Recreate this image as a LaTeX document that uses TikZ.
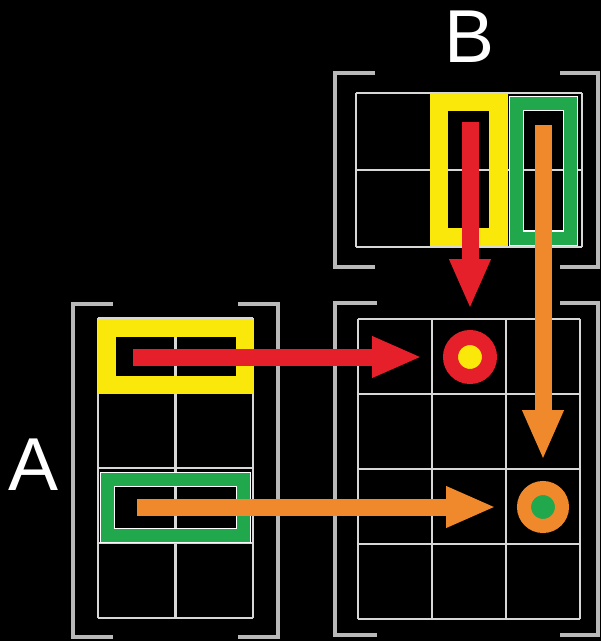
\documentclass[tikz,border=0pt]{standalone}
\usepackage{fontspec}
\setmainfont{Liberation Sans}
\usetikzlibrary{arrows.meta}
\definecolor{cellyellow}{RGB}{250,232,10}
\definecolor{cellgreen}{RGB}{34,168,76}
\definecolor{hitred}{RGB}{230,32,42}
\definecolor{hitorange}{RGB}{240,136,44}
\definecolor{gridgray}{RGB}{215,215,215}
\definecolor{bracketgray}{RGB}{185,185,185}

\begin{document}
\begin{tikzpicture}[
      x=1pt, y=-1pt,
      gridline/.style={draw=gridgray, line width=2.6pt},
      bracket/.style={draw=bracketgray, line width=3.6pt},
      yelbox/.style={draw=cellyellow, line width=18pt},
      grnbox/.style={draw=white, line width=1.3pt, double=cellgreen, double distance=13pt},
      redarrow/.style={-{Triangle[length=50pt,width=38pt]}, draw=hitred, fill=hitred, line width=17pt, shorten >=21pt},
      orgarrow/.style={-{Triangle[length=50pt,width=38pt]}, draw=hitorange, fill=hitorange, line width=17pt, shorten >=21pt},
      reddot/.style={circle, draw=hitred, fill=cellyellow, line width=15pt, minimum size=39pt, inner sep=0pt},
      orgdot/.style={circle, draw=hitorange, fill=cellgreen, line width=14pt, minimum size=38pt, inner sep=0pt},
      label/.style={text=white, font=\fontsize{75}{75}\selectfont}
    ]

    % Background
    \fill[black] (0,0) rectangle (601,641);
    \useasboundingbox (0,0) rectangle (601,641);

    % Grids
    \foreach \x in {98,175.5,253} \draw[gridline] (\x,318) -- (\x,618);
    \foreach \y in {318,393,468,543,618} \draw[gridline] (98,\y) -- (253,\y);
    \foreach \x in {356,431.3,506.7,582} \draw[gridline] (\x,93) -- (\x,247);
    \foreach \y in {93,170,247} \draw[gridline] (356,\y) -- (582,\y);
    \foreach \x in {358,432,506,580} \draw[gridline] (\x,319) -- (\x,619);
    \foreach \y in {319,394,469,544,619} \draw[gridline] (358,\y) -- (580,\y);

    % Brackets
    \draw[bracket] (113,304) -| (73,637) -- (113,637);
    \draw[bracket] (238,304) -| (278,637) -- (238,637);
    \draw[bracket] (375,73) -| (335,267) -- (375,267);
    \draw[bracket] (560,73) -| (598,267) -- (560,267);
    \draw[bracket] (377,303) -| (335,635) -- (377,635);
    \draw[bracket] (560,303) -| (598,635) -- (560,635);

    % Selected rows and columns
    \draw[yelbox] (107,328) rectangle (245,385);
    \draw[grnbox] (107.5,479.5) rectangle (243.5,535.5);
    \draw[yelbox] (439,102) rectangle (498,237);
    \draw[grnbox] (516.5,103.5) rectangle (570.5,238);

    % Labels
    \node[label] (labA) at (34,465) {A};
    \node[label] (labB) at (470,37) {B};

    % Result cells
    \node[reddot] (dotR) at (470,357) {};
    \node[orgdot] (dotO) at (543,507) {};

    % Arrow starts
    \coordinate (rowA1) at (133,357);
    \coordinate (rowA3) at (137,507);
    \coordinate (colB2) at (470,122);
    \coordinate (colB3) at (543,125);

    % Arrows
    \draw[redarrow] (rowA1) -- (dotR);
    \draw[redarrow] (colB2) -- (dotR);
    \draw[orgarrow] (rowA3) -- (dotO);
    \draw[orgarrow] (colB3) -- (dotO);

  \end{tikzpicture}
\end{document}
